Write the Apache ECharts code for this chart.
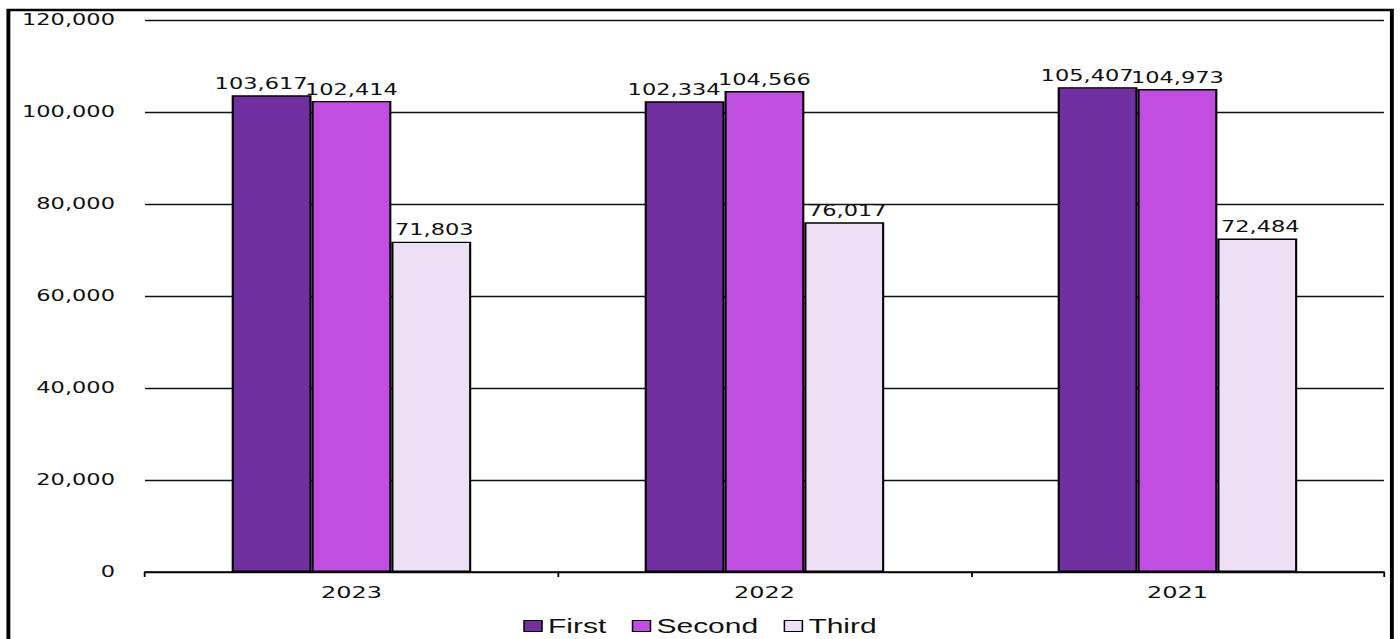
<!DOCTYPE html>
<html>
<head>
<meta charset="utf-8">
<script src="https://cdn.jsdelivr.net/npm/echarts@6/dist/echarts.min.js"></script>
<style>
  html, body { margin: 0; padding: 0; background: #fff; overflow: hidden; }
  /* the chart is laid out narrow and widened horizontally to fill the page */
  #chart { width: 934px; height: 639px; transform: scaleX(1.4989); transform-origin: 0 0; }
</style>
</head>
<body>
<div id="chart"></div>
<script>
const years = ['2023', '2022', '2021'];
const firstValues = [103617, 102334, 105407];
const secondValues = [102414, 104566, 104973];
const thirdValues = [71803, 76017, 72484];
const seriesNames = ['First', 'Second', 'Third'];
const seriesColors = ['#7030A0', '#C04EE0', '#EDE0F5'];

const fmt = v => Number(v).toLocaleString('en-US');

const chart = echarts.init(document.getElementById('chart'), null, { renderer: 'svg' });

const mkSeries = (name, data, color, labelShift) => ({
  name: name,
  type: 'bar',
  data: data,
  barGap: '0%',
  barCategoryGap: '42%',
  itemStyle: { color: color, borderColor: '#000', borderWidth: 1.4 },
  label: {
    show: true,
    position: 'top',
    distance: 4,
    offset: [labelShift, 0],
    formatter: p => fmt(p.value),
    fontFamily: 'Verdana, "DejaVu Sans", sans-serif',
    fontSize: 15,
    color: '#111'
  }
});

chart.setOption({
  animation: false,
  backgroundColor: '#fff',
  graphic: [{
    type: 'rect',
    shape: { x: 5.6, y: 10, width: 923, height: 640 },
    style: { fill: 'none', stroke: '#000', lineWidth: 2.6 },
    silent: true
  }],
  grid: { left: 96.7, right: 10.7, top: 20, bottom: 67 },
  legend: {
    data: seriesNames,
    left: 'center',
    top: 611,
    padding: 5,
    itemWidth: 12,
    itemHeight: 11,
    itemGap: 17,
    icon: 'rect',
    itemStyle: { borderColor: '#000', borderWidth: 1 },
    textStyle: {
      fontFamily: 'Arial, "Liberation Sans", sans-serif',
      fontSize: 20,
      color: '#111',
      padding: [0, 0, 0, -1]
    }
  },
  xAxis: {
    type: 'category',
    data: years,
    axisLine: { lineStyle: { color: '#000', width: 1.5 } },
    axisTick: { show: true, length: 5, lineStyle: { color: '#000', width: 1.2 } },
    axisLabel: {
      margin: 12,
      fontFamily: 'Verdana, "DejaVu Sans", sans-serif',
      fontSize: 16,
      color: '#111'
    }
  },
  yAxis: {
    type: 'value',
    min: 0,
    max: 120000,
    interval: 20000,
    axisLine: { show: false },
    axisTick: { show: false },
    splitLine: { lineStyle: { color: '#111', width: 1.4 } },
    axisLabel: {
      margin: 20,
      formatter: v => fmt(v),
      fontFamily: 'Verdana, "DejaVu Sans", sans-serif',
      fontSize: 15,
      color: '#111'
    }
  },
  series: [
    mkSeries(seriesNames[0], firstValues, seriesColors[0], -7),
    mkSeries(seriesNames[1], secondValues, seriesColors[1], 0),
    mkSeries(seriesNames[2], thirdValues, seriesColors[2], 2)
  ]
});
</script>
</body>
</html>
